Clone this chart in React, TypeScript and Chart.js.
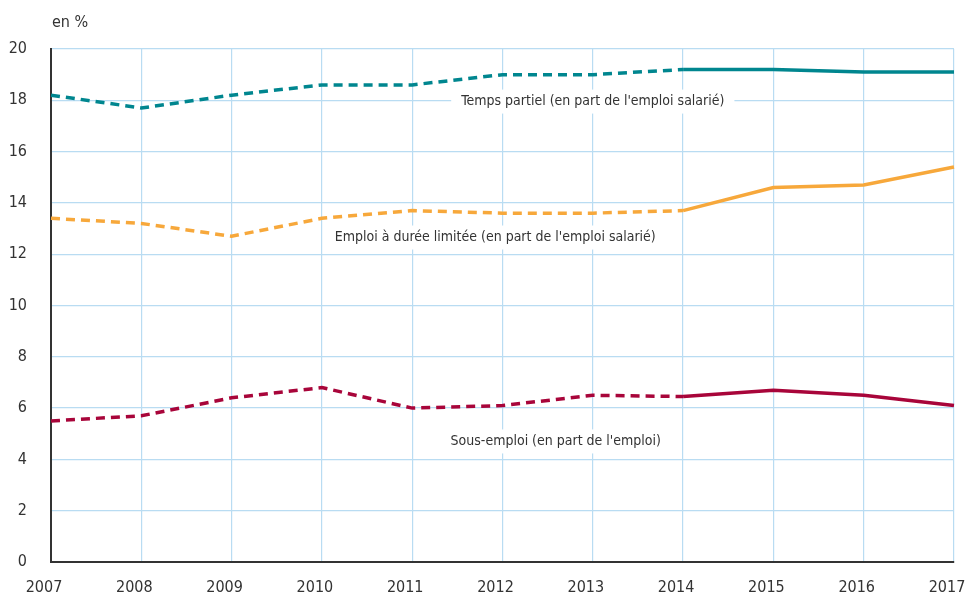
import React, { useEffect, useRef } from "react";
import { Chart, registerables } from "chart.js";

Chart.register(...registerables);

const years = ["2007", "2008", "2009", "2010", "2011", "2012", "2013", "2014", "2015", "2016", "2017"];
const tempsPartiel = [18.2, 17.7, 18.2, 18.6, 18.6, 19.0, 19.0, 19.2, 19.2, 19.1, 19.1];
const emploiLimite = [13.4, 13.2, 12.7, 13.4, 13.7, 13.6, 13.6, 13.7, 14.6, 14.7, 15.4];
const sousEmploi = [5.5, 5.7, 6.4, 6.8, 6.0, 6.1, 6.5, 6.45, 6.7, 6.5, 6.1];
const dashedUntilIndex = 7;
const yTicks = [0, 2, 4, 6, 8, 10, 12, 14, 16, 18, 20];

const labelTemps = "Temps partiel (en part de l'emploi salarié)";
const labelEmploi = "Emploi à durée limitée (en part de l'emploi salarié)";
const labelSous = "Sous-emploi (en part de l'emploi)";
const unitLabel = "en %";

const FONT = '"Liberation Sans Narrow", "DejaVu Sans Condensed", "Roboto", sans-serif';
const TEXT = "#333333";

const annotations = [
  { text: labelTemps, x: 6.0, y: 17.95 },
  { text: labelEmploi, x: 4.92, y: 12.65 },
  { text: labelSous, x: 5.59, y: 4.7 },
];

const labelPlugin = {
  id: "seriesLabels",
  beforeDatasetsDraw(chart: any) {
    const ctx = chart.ctx;
    const xs = chart.scales.x;
    const ys = chart.scales.y;
    ctx.save();
    ctx.font = `14px ${FONT}`;
    ctx.textAlign = "center";
    ctx.textBaseline = "middle";
    for (const a of annotations) {
      const px = xs.getPixelForValue(a.x);
      const py = ys.getPixelForValue(a.y);
      const w = ctx.measureText(a.text).width;
      ctx.fillStyle = "#ffffff";
      ctx.fillRect(px - w / 2 - 10, py - 12, w + 20, 24);
      ctx.fillStyle = TEXT;
      ctx.fillText(a.text, px, py);
    }
    ctx.restore();
  },
  afterDraw(chart: any) {
    const ctx = chart.ctx;
    ctx.save();
    ctx.font = `16px ${FONT}`;
    ctx.textAlign = "left";
    ctx.textBaseline = "alphabetic";
    ctx.fillStyle = TEXT;
    ctx.fillText(unitLabel, chart.chartArea.left + 1, 27);
    ctx.restore();
  },
};

function dashSeg(ctx: any) {
  return ctx.p1DataIndex <= dashedUntilIndex ? [9, 6] : [];
}

export default function App() {
  const ref = useRef<HTMLCanvasElement | null>(null);
  useEffect(() => {
    if (!ref.current) return;
    const mk = (label: string, data: number[], color: string) => ({
      label,
      data,
      borderColor: color,
      backgroundColor: color,
      borderWidth: 3.5,
      pointRadius: 0,
      tension: 0,
      fill: false,
      segment: { borderDash: dashSeg },
    });
    const chart = new Chart(ref.current, {
      type: "line",
      data: {
        labels: years,
        datasets: [
          mk(labelTemps, tempsPartiel, "#00868f"),
          mk(labelEmploi, emploiLimite, "#f7a83b"),
          mk(labelSous, sousEmploi, "#a8053a"),
        ],
      },
      options: {
        animation: false,
        responsive: true,
        maintainAspectRatio: false,
        layout: { padding: { top: 49, right: 13, left: 0, bottom: 0 } },
        plugins: { legend: { display: false }, tooltip: { enabled: false } },
        scales: {
          x: {
            offset: false,
            grid: { color: "#b9dcf2", lineWidth: 1.2, drawTicks: false, offset: false },
            border: { color: "#333333", width: 2 },
            ticks: {
              color: TEXT,
              font: { family: FONT, size: 16 },
              padding: 16,
              labelOffset: -7,
              autoSkip: false,
              maxRotation: 0,
            },
            afterFit(scale: any) {
              scale.height = 35;
              scale.paddingLeft = 0;
              scale.paddingRight = 0;
            },
          },
          y: {
            min: 0,
            max: 20,
            afterBuildTicks(scale: any) {
              scale.ticks = yTicks.map((v) => ({ value: v }));
            },
            grid: { color: "#b9dcf2", lineWidth: 1.2, drawTicks: false },
            border: { color: "#333333", width: 2 },
            ticks: {
              color: TEXT,
              font: { family: FONT, size: 16 },
              padding: 24,
            },
            afterFit(scale: any) {
              scale.width = 51;
            },
          },
        },
      },
      plugins: [labelPlugin],
    } as any);
    return () => chart.destroy();
  }, []);
  return (
    <div style={{ position: "fixed", left: 0, top: 0, width: 967, height: 597, background: "#fff" }}>
      <canvas ref={ref} />
    </div>
  );
}
